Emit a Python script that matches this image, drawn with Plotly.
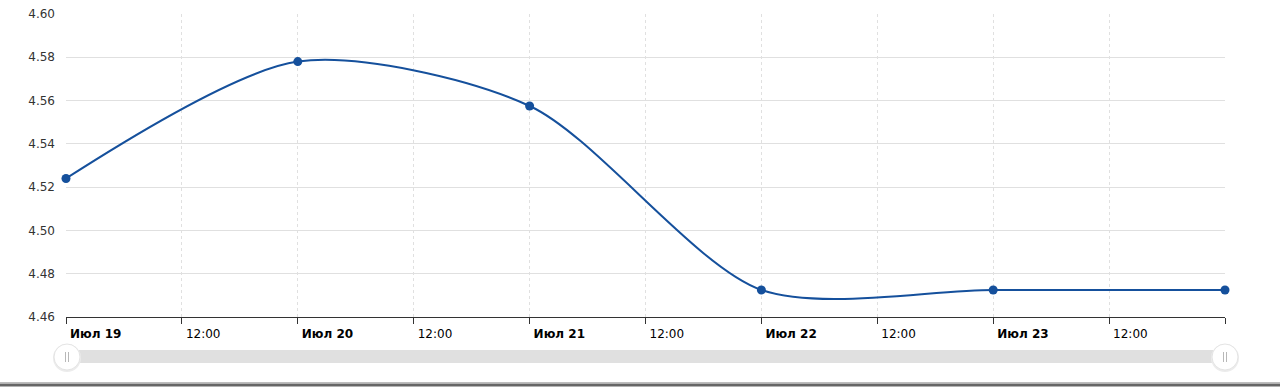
import plotly.graph_objects as go

dates = ["2024-07-19", "2024-07-20", "2024-07-21", "2024-07-22", "2024-07-23", "2024-07-24"]
values = [4.524, 4.578, 4.5575, 4.4725, 4.4725, 4.4725]

tick_vals = ["2024-07-19 00:00", "2024-07-19 12:00", "2024-07-20 00:00", "2024-07-20 12:00",
             "2024-07-21 00:00", "2024-07-21 12:00", "2024-07-22 00:00", "2024-07-22 12:00",
             "2024-07-23 00:00", "2024-07-23 12:00", "2024-07-24 00:00"]
tick_text = ["<b>Июл 19</b>", "12:00", "<b>Июл 20</b>", "12:00", "<b>Июл 21</b>", "12:00",
             "<b>Июл 22</b>", "12:00", "<b>Июл 23</b>", "12:00", ""]

W, H = 1280, 387
L, R, T, B = 66, 55, 14, 70
pw, ph = W - L - R, H - T - B

def px(x):
    return (x - L) / pw

def py(y):
    return (H - B - y) / ph

fig = go.Figure()
fig.add_trace(go.Scatter(
    x=dates, y=values, mode="lines+markers",
    line=dict(color="#15509c", width=2, shape="spline", smoothing=0.8),
    marker=dict(color="#15509c", size=9),
    cliponaxis=False, hoverinfo="x+y", showlegend=False,
))

shapes = []
# navigator bar
shapes.append(dict(type="rect", xref="paper", yref="paper", x0=px(70), x1=px(1222),
                   y0=py(363), y1=py(350), fillcolor="#e0e0e0", line=dict(width=0), layer="above"))
# handles
for cx in (67, 1225):
    shapes.append(dict(type="circle", xref="paper", yref="paper", xsizemode="pixel", ysizemode="pixel",
                       xanchor=px(cx), yanchor=py(358), x0=-14, x1=14, y0=-14, y1=14,
                       fillcolor="#ececec", line=dict(width=0), layer="above"))
    shapes.append(dict(type="circle", xref="paper", yref="paper", xsizemode="pixel", ysizemode="pixel",
                       xanchor=px(cx), yanchor=py(357), x0=-13, x1=13, y0=-13, y1=13,
                       fillcolor="#ffffff", line=dict(color="#e4e4e4", width=1), layer="above"))
    for dx in (-1.5, 1.5):
        shapes.append(dict(type="line", xref="paper", yref="paper", xsizemode="pixel", ysizemode="pixel",
                           xanchor=px(cx), yanchor=py(357), x0=dx, x1=dx, y0=-5, y1=5,
                           line=dict(color="#b8b8b8", width=1), layer="above"))
# bottom border lines
shapes.append(dict(type="line", xref="paper", yref="paper", x0=px(0), x1=px(W),
                   y0=py(382.5), y1=py(382.5), line=dict(color="#bdbdbd", width=1), layer="above"))
shapes.append(dict(type="line", xref="paper", yref="paper", x0=px(0), x1=px(W),
                   y0=py(385), y1=py(385), line=dict(color="#666666", width=3), layer="above"))

fig.update_layout(
    width=W, height=H,
    margin=dict(l=L, r=R, t=T, b=B, autoexpand=False),
    paper_bgcolor="white", plot_bgcolor="white",
    font=dict(family="DejaVu Sans, Verdana, sans-serif", size=12, color="#333333"),
    shapes=shapes,
    xaxis=dict(
        type="date", range=["2024-07-19", "2024-07-24"], automargin=False,
        tickmode="array", tickvals=tick_vals, ticktext=tick_text,
        ticklabelposition="outside right", ticklabelshift=3, ticklabelstandoff=6,
        ticks="outside", ticklen=6, tickcolor="#333333", tickwidth=1,
        showline=True, linecolor="#333333", linewidth=1,
        showgrid=True, gridcolor="#e0e0e0", griddash="dot", gridwidth=1,
        zeroline=False, tickfont=dict(size=12, color="#000000"),
    ),
    yaxis=dict(
        range=[4.46, 4.60], dtick=0.02, tick0=4.46, tickformat=".2f", automargin=False,
        showgrid=True, gridcolor="#e0e0e0", gridwidth=1,
        showline=False, zeroline=False, ticks="", ticklabelstandoff=10,
        tickfont=dict(size=12, color="#333333"),
    ),
)

fig.write_html("out.html")
